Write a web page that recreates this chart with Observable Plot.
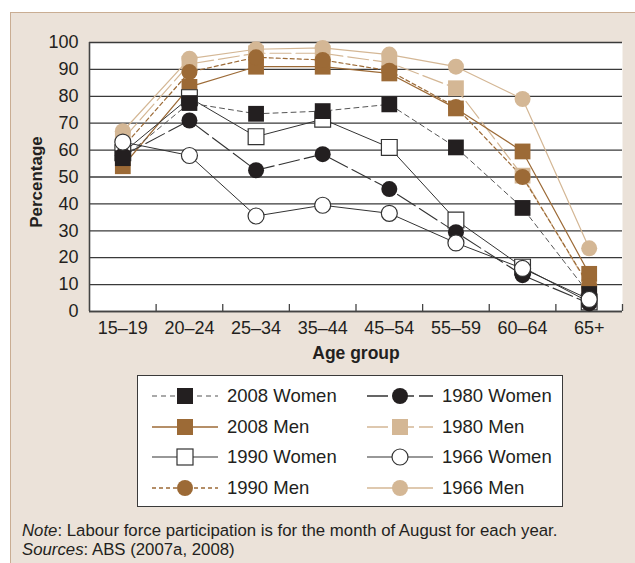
<!DOCTYPE html>
<html>
<head>
<meta charset="utf-8">
<script src="https://cdn.jsdelivr.net/npm/d3@7"></script>
<script src="https://cdn.jsdelivr.net/npm/@observablehq/plot@0.6"></script>
<style>
  html, body { margin: 0; padding: 0; background: #ffffff; }
  #wrap { position: relative; width: 635px; height: 563px; overflow: hidden;
          font-family: "Liberation Sans", Arial, sans-serif; color: #231f20; }
  #panel { position: absolute; left: 10px; top: 12px; right: 0; bottom: 0; background: #ebe2d9;
           border-top: 1.5px solid #c9ad93; border-left: 1.5px solid #c9ad93; }
  #chart { position: absolute; left: 0; top: 0; }
  #legend { position: absolute; left: 137px; top: 375px; width: 426px; height: 132px;
            background: #fff; border: 1.5px solid #3a3a3a; box-sizing: border-box; }
  .item { position: absolute; height: 24px; display: flex; align-items: center; }
  .item span { font-size: 18.5px; margin-left: 8px; white-space: nowrap; }
  #note { position: absolute; left: 22px; top: 522px; font-size: 16.8px; line-height: 18.5px; }
</style>
</head>
<body>
<div id="wrap">
  <div id="panel"></div>
  <div id="chart"></div>
  <div id="legend"></div>
  <div id="note"><i>Note</i>: Labour force participation is for the month of August for each year.<br><i>Sources</i>: ABS (2007a, 2008)</div>
</div>
<script>
// ---- data ----
const ageGroups = ["15–19", "20–24", "25–34", "35–44", "45–54", "55–59", "60–64", "65+"];
const yTicks = [0, 10, 20, 30, 40, 50, 60, 70, 80, 90, 100];
const women2008 = [57, 77.5, 73.5, 74.5, 77, 61, 38.5, 6.5];
const men2008   = [54, 83.5, 91, 91, 88.5, 75.5, 59.5, 14];
const women1990 = [59, 79.5, 65, 71.5, 61, 34, 16.5, 3.5];
const men1990   = [61, 89, 94.5, 93.5, 89.5, 76, 50, 9.5];
const women1980 = [58, 71, 52.5, 58.5, 45.5, 29.5, 13.5, 3];
const men1980   = [64, 92, 96, 96, 92.5, 83, 50.5, 9];
const women1966 = [63, 58, 35.5, 39.5, 36.5, 25.5, 16, 4.5];
const men1966   = [67, 94, 97.5, 98, 95.5, 91, 79, 23.5];
const legendOrder = ["2008 Women", "1980 Women", "2008 Men", "1980 Men", "1990 Women", "1966 Women", "1990 Men", "1966 Men"];

// ---- styles ----
const BLACK = "#231f20", BROWN = "#9c6a36", TAN = "#d4b795";
const series = [
  {name: "1966 Men",   values: men1966,   line: TAN,   dash: null,   width: 1.2, symbol: "circle", fill: TAN,   stroke: "none"},
  {name: "1980 Men",   values: men1980,   line: TAN,   dash: "21,5", width: 1.2, symbol: "square", fill: TAN,   stroke: "none"},
  {name: "2008 Men",   values: men2008,   line: BROWN, dash: null,   width: 1.2, symbol: "square", fill: BROWN, stroke: "none"},
  {name: "1990 Men",   values: men1990,   line: BROWN, dash: "4,3",  width: 1.2, symbol: "circle", fill: BROWN, stroke: "none"},
  {name: "1990 Women", values: women1990, line: "#333", dash: null,  width: 1,   symbol: "square", fill: "#fff", stroke: "#333"},
  {name: "1980 Women", values: women1980, line: "#333", dash: "21,5", width: 1.1, symbol: "circle", fill: BLACK, stroke: "none"},
  {name: "2008 Women", values: women2008, line: "#555", dash: "5,4", width: 1,   symbol: "square", fill: BLACK, stroke: "none"},
  {name: "1966 Women", values: women1966, line: "#333", dash: null,  width: 1,   symbol: "circle", fill: "#fff", stroke: "#333"}
];
const rows = series.flatMap(s => s.values.map((v, i) => ({series: s.name, i, age: ageGroups[i], value: v})));
const R = {circle: 8, square: 8.9};

const marks = [
  Plot.frame({fill: "#fff", stroke: null}),
  Plot.ruleY(yTicks, {stroke: "#3a3a3a", strokeWidth: 1.3}),
  Plot.ruleY([0], {stroke: "#444", strokeWidth: 1.6}),
  Plot.ruleX([-0.5], {stroke: "#444", strokeWidth: 1.6}),
  Plot.ruleX(d3.range(ageGroups.length).map(i => i + 0.5), {y1: 0, y2: 2.6, stroke: "#444", strokeWidth: 1.3}),
  Plot.axisY({ticks: yTicks, tickSize: 0, tickPadding: 11, label: null}),
  Plot.axisX({ticks: d3.range(ageGroups.length), tickFormat: i => ageGroups[i], tickSize: 0, tickPadding: 10, label: null}),
  Plot.text(["Age group"], {text: d => d, frameAnchor: "bottom", dy: 47, fontWeight: "bold", fontSize: 17.5}),
  Plot.text(["Percentage"], {text: d => d, frameAnchor: "left", textAnchor: "middle", dx: -53, dy: 5, rotate: -90, fontWeight: "bold", fontSize: 17})
];
for (const s of series) {
  marks.push(Plot.line(rows.filter(d => d.series === s.name), {
    x: "i", y: "value", stroke: s.line, strokeWidth: s.width, strokeDasharray: s.dash
  }));
}
for (const s of series) {
  marks.push(Plot.dot(rows.filter(d => d.series === s.name), {
    x: "i", y: "value", symbol: s.symbol, r: R[s.symbol], fill: s.fill, stroke: s.stroke, strokeWidth: 1.2
  }));
}

const chart = Plot.plot({
  width: 635,
  height: 372,
  marginTop: 42,
  marginBottom: 61,
  marginLeft: 89,
  marginRight: 13,
  x: {type: "linear", domain: [-0.5, ageGroups.length - 0.5]},
  y: {domain: [0, 100]},
  style: {fontFamily: "'Liberation Sans', Arial, sans-serif",
          fontSize: "18px", color: BLACK, background: "transparent", overflow: "visible"},
  marks
});
chart.querySelectorAll("text").forEach(t => t.setAttribute("fill", BLACK));
document.getElementById("chart").appendChild(chart);

// ---- legend ----
const legend = d3.select("#legend");
const bySeries = new Map(series.map(s => [s.name, s]));
legendOrder.forEach((name, k) => {
  const s = bySeries.get(name);
  const col = k % 2, row = Math.floor(k / 2);
  const item = legend.append("div").attr("class", "item")
    .style("left", (col === 0 ? 13 : 228) + "px")
    .style("top", (8 + row * 30.7) + "px");
  const svg = item.append("svg").attr("width", 68).attr("height", 24);
  svg.append("line").attr("x1", 1).attr("x2", 67).attr("y1", 12).attr("y2", 12)
    .attr("stroke", s.line).attr("stroke-width", s.width + 0.2)
    .attr("stroke-dasharray", s.dash);
  if (s.symbol === "square") {
    svg.append("rect").attr("x", 26).attr("y", 4).attr("width", 16).attr("height", 16)
      .attr("fill", s.fill).attr("stroke", s.stroke === "none" ? null : s.stroke).attr("stroke-width", 1.2);
  } else {
    svg.append("circle").attr("cx", 34).attr("cy", 12).attr("r", 8)
      .attr("fill", s.fill).attr("stroke", s.stroke === "none" ? null : s.stroke).attr("stroke-width", 1.2);
  }
  item.append("span").text(name);
});
</script>
</body>
</html>
